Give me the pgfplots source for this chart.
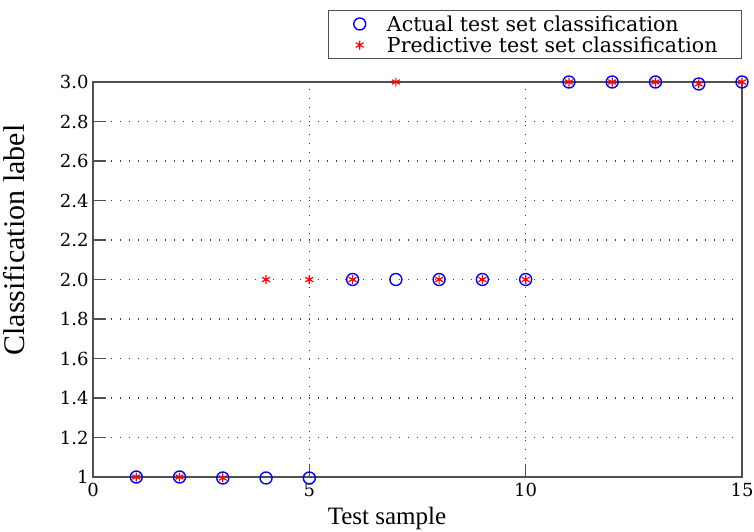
\documentclass[border=0pt]{standalone}
\usepackage{fontspec}
\setmainfont{Liberation Serif}
\newfontfamily\dvs{DejaVu Serif}
\usepackage{pgfplots}
\pgfplotsset{compat=1.18}
\definecolor{axgray}{RGB}{80,80,80}
\pgfplotsset{
  mylegimg/.style={legend image code/.code={\node[inner sep=0pt, minimum size=0.5pt] at (-10pt,0pt) {}; \draw[##1] plot[only marks] coordinates {(0pt,0pt)}; \node[inner sep=0pt, minimum size=0.5pt] at (24pt,0pt) {};}},
}
\begin{document}
\begin{tikzpicture}
\begin{axis}[
  at={(0,0)}, anchor=south west,
  scale only axis, width=649pt, height=395pt,
  xmin=0, xmax=15, ymin=1, ymax=3,
  xtick={0,5,10,15},
  xticklabels={\hbox{0},\hbox{5},\hbox{10},\hbox{15}},
  ytick={1,1.2,1.4,1.6,1.8,2.0,2.2,2.4,2.6,2.8,3.0},
  yticklabels={\hbox{1},\hbox{1.2},\hbox{1.4},\hbox{1.6},\hbox{1.8},\hbox{2.0},\hbox{2.2},\hbox{2.4},\hbox{2.6},\hbox{2.8},\hbox{3.0}},
  xtick pos=bottom, ytick pos=left,
  tick align=inside,
  major tick length=13pt,
  tick style={axgray, line width=1.2pt},
  axis line style={axgray, line width=1.5pt},
  grid=major,
  major grid style={black!75, line width=1.1pt, dash pattern=on 1.1pt off 7.9pt},
  xticklabel style={font=\dvs\fontsize{18}{22}\selectfont, yshift=-3pt},
  yticklabel style={font=\dvs\fontsize{18}{22}\selectfont, xshift=-1pt},
  xlabel={Test sample},
  ylabel={Classification label},
  xlabel style={at={(axis description cs:0.453,-0.104)}, anchor=center, font=\fontsize{25}{29}\selectfont},
  ylabel style={at={(axis description cs:-0.1217,0.6)}, anchor=center, rotate=0, font=\fontsize{30}{34}\selectfont},
  clip=false,
  legend style={at={(axis description cs:1,1.058)}, anchor=south east,
    draw=axgray, line width=1pt, font=\dvs\fontsize{20.5}{29}\selectfont,
    inner xsep=22pt, inner ysep=3pt, row sep=0pt},
  legend cell align=left,
]
\addplot[only marks, mark=o, mark size=6pt, blue, line width=1.4pt, mylegimg] coordinates {
(1,1) (2,1) (3,0.995) (4,0.995) (5,0.995) (6,2) (7,2) (8,2) (9,2) (10,2)
(11,3) (12,3) (13,3) (14,2.99) (15,3)};
\addlegendentry{Actual test set classification}
\addplot[only marks, mark=asterisk, mark size=4.5pt, red, line width=1.2pt, mylegimg] coordinates {
(1,1) (2,1) (3,0.995) (4,2) (5,2) (6,2) (7,3) (8,2) (9,2) (10,2)
(11,3) (12,3) (13,3) (14,2.99) (15,3)};
\addlegendentry{Predictive test set classification}
\end{axis}
\pgfresetboundingbox
\path (-93pt,-54pt) rectangle (661pt,477pt);
\end{tikzpicture}
\end{document}
